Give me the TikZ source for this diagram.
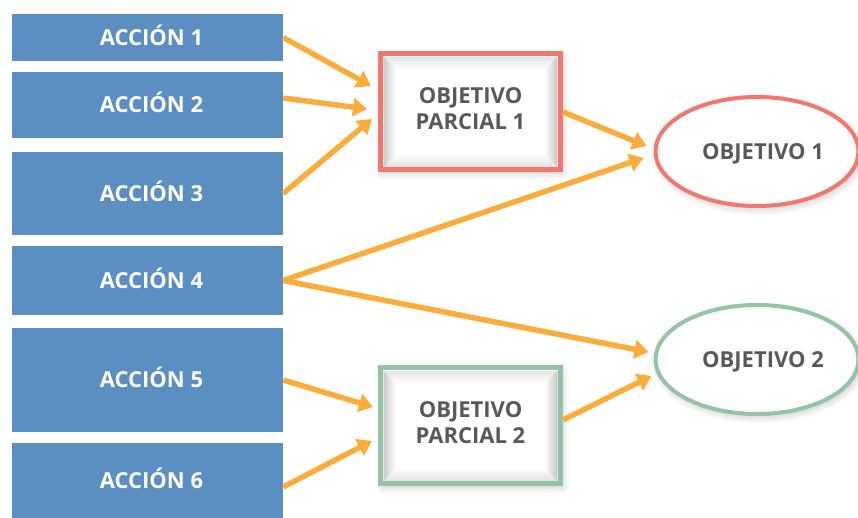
\documentclass[tikz,border=0pt]{standalone}
\usepackage{fontspec}
\setmainfont{Open Sans}
\usetikzlibrary{arrows.meta,shapes.geometric,shadows.blur}

\definecolor{accblue}{HTML}{5B8FC2}
\definecolor{arrorange}{HTML}{FBAD3B}
\definecolor{goalred}{HTML}{F2786D}
\definecolor{goalgreen}{HTML}{93C4A5}
\definecolor{labelgray}{HTML}{58595B}

\tikzset{
  labelfont/.style={font=\fontsize{22}{25.5}\selectfont\bfseries},
  oneline/.style={text height=15.7pt, text depth=0pt},
  accion/.style={rectangle, fill=accblue, text=white, minimum width=271,
    inner sep=0, labelfont, oneline, execute at begin node={\hspace*{8pt}}},
  softshadow/.style={blur shadow={shadow xshift=2pt, shadow yshift=-3pt,
    shadow blur radius=7pt, shadow blur steps=12, shadow opacity=22}},
  parcial/.style={rectangle, draw=#1, line width=5, fill=white,
    minimum width=180, minimum height=116, inner sep=0, text=labelgray,
    align=center, labelfont, text height=41.2pt, text depth=7pt, softshadow,
    path picture={
      \foreach \i in {1,...,12}{
        \draw[black, line width=1.1pt, opacity=0.009*(13-\i)]
          ([shift={(2.5+\i,2.5+\i)}]path picture bounding box.south west)
          rectangle
          ([shift={(-2.5-\i,-2.5-\i)}]path picture bounding box.north east);
      }}},
  meta/.style={ellipse, draw=#1, line width=4, fill=white,
    minimum width=203, minimum height=109, inner sep=0, text=labelgray,
    labelfont, oneline, softshadow, execute at begin node={\hspace*{12pt}}},
  flecha/.style={draw=arrorange, line width=5.5,
    -{Triangle[length=14pt,width=18pt]}}
}

\begin{document}
\begin{tikzpicture}[x=1pt, y=1pt]
  \useasboundingbox (0,0) rectangle (858,518);

  % action boxes
  \node[accion, minimum height=47]  (a1) at (147.5,480.5) {ACCIÓN 1};
  \node[accion, minimum height=66]  (a2) at (147.5,413)   {ACCIÓN 2};
  \node[accion, minimum height=83]  (a3) at (147.5,324.5) {ACCIÓN 3};
  \node[accion, minimum height=69]  (a4) at (147.5,237.5) {ACCIÓN 4};
  \node[accion, minimum height=104] (a5) at (147.5,138)   {ACCIÓN 5};
  \node[accion, minimum height=75]  (a6) at (147.5,37.5)  {ACCIÓN 6};

  % partial objectives
  \node[parcial=goalred]   (p1) at (470.5,406) {OBJETIVO\\PARCIAL 1};
  \node[parcial=goalgreen] (p2) at (470.5,92)  {OBJETIVO\\PARCIAL 2};

  % final objectives
  \node[meta=goalred]   (o1) at (757,366.5) {OBJETIVO 1};
  \node[meta=goalgreen] (o2) at (757,158.5) {OBJETIVO 2};

  % connectors
  \draw[flecha] (a1.east) -- ([shift={(-7,26)}]p1.west);
  \draw[flecha] ([yshift=7]a2.east) -- ([shift={(-11,3)}]p1.west);
  \draw[flecha] (a3.east) -- ([shift={(-6,-7)}]p1.west);
  \draw[flecha] (p1.east) -- ([shift={(-7,5.5)}]o1.west);
  \draw[flecha] (a4.east) -- ([shift={(-10,-6.5)}]o1.west);
  \draw[flecha] (a4.east) -- ([shift={(-5,7.5)}]o2.west);
  \draw[flecha] ([yshift=6]p2.east) -- ([shift={(-2,-16.5)}]o2.west);
  \draw[flecha] (a5.east) -- ([shift={(-5,19)}]p2.west);
  \draw[flecha] ([yshift=-6.5]a6.east) -- ([shift={(-6,-15)}]p2.west);
\end{tikzpicture}
\end{document}
